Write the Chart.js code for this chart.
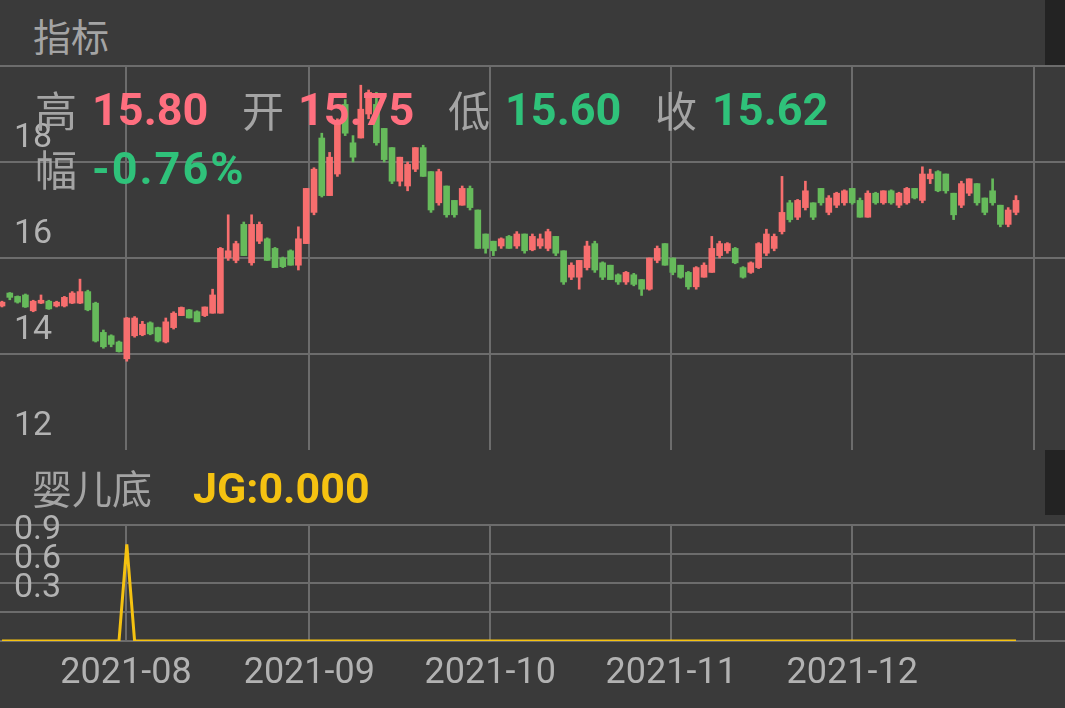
<!DOCTYPE html>
<html>
<head>
<meta charset="utf-8">
<script src="https://cdn.jsdelivr.net/npm/chart.js@4.4.0/dist/chart.umd.min.js"></script>
<style>
  html, body { margin: 0; padding: 0; background: #3a3a3a; width: 1065px; height: 708px; overflow: hidden; }
  .abs { position: absolute; white-space: nowrap; line-height: 1; }
  .cjk { font-family: "Noto Sans CJK SC", sans-serif; color: #a4a4a4; }
  .num { font-family: Roboto, sans-serif; font-weight: bold; }
  .up { color: #ff6f7f; }
  .down { color: #2fc27a; }
  .strip { position: absolute; left: 1045px; width: 20px; height: 65px; background: #232323; }
  #mainBox { position: absolute; left: 0; top: 64px; width: 1065px; height: 388px; }
  #subBox { position: absolute; left: 0; top: 515px; width: 1065px; height: 193px; }
</style>
</head>
<body>
<div class="strip" style="top:0"></div>
<div class="strip" style="top:450px"></div>
<div class="abs cjk" style="left:33px;top:16px;font-size:38px">指标</div>

<div id="mainBox"><canvas id="mainChart"></canvas></div>
<div id="subBox"><canvas id="subChart"></canvas></div>

<!-- 行情信息 -->
<div class="abs cjk" style="left:35px;top:88px;font-size:42px">高</div>
<div class="abs num up" style="left:92px;top:87px;font-size:45px">15.80</div>
<div class="abs cjk" style="left:242px;top:88px;font-size:42px">开</div>
<div class="abs num up" style="left:298px;top:87px;font-size:45px">15.75</div>
<div class="abs cjk" style="left:448px;top:88px;font-size:42px">低</div>
<div class="abs num down" style="left:505px;top:87px;font-size:45px">15.60</div>
<div class="abs cjk" style="left:655px;top:88px;font-size:42px">收</div>
<div class="abs num down" style="left:712px;top:87px;font-size:45px">15.62</div>
<div class="abs cjk" style="left:35px;top:147px;font-size:42px">幅</div>
<div class="abs num down" style="left:92px;top:146px;font-size:45px;letter-spacing:2px">-0.76%</div>

<div class="abs cjk" style="left:32px;top:467px;font-size:40px">婴儿底</div>
<div class="abs num" style="left:193px;top:467px;font-size:43px;color:#f5c211">JG:0.000</div>

<script>
// ===== DATOS =====
const opens = [
  15.0, 15.27, 15.2, 15.23, 14.9, 15.06, 15.1, 15.0, 15.0, 15.06,
  15.06, 15.3, 15.06, 14.45, 14.38, 14.25, 13.9, 14.38, 14.4, 14.65,
  14.55, 14.25, 14.55, 14.8, 14.92, 14.88, 14.8, 14.85, 14.85, 16.0,
  15.95, 16.7, 15.9, 16.35, 16.4, 16.2, 16.0, 16.15, 15.85, 16.3,
  16.95, 18.5, 17.3, 17.75, 19.2, 18.4, 18.5, 19.0, 19.2, 18.7,
  18.3, 17.6, 17.5, 17.85, 18.3, 17.8, 17.15, 17.5, 17.2, 17.1,
  17.45, 17.0, 16.5, 16.35, 16.25, 16.45, 16.25, 16.5, 16.17, 16.25,
  16.2, 16.45, 16.15, 15.6, 15.6, 15.8, 16.3, 15.9, 15.85, 15.65,
  15.5, 15.65, 15.55, 15.35, 15.95, 16.3, 16.0, 15.85, 15.7, 15.4,
  15.6, 15.7, 16.05, 16.15, 16.2, 15.8, 15.7, 15.8, 16.1, 16.2,
  16.55, 17.15, 16.85, 17.05, 17.15, 17.45, 16.95, 17.1, 17.15, 17.45,
  17.2, 16.85, 17.35, 17.15, 17.4, 17.1, 17.15, 17.45, 17.2, 17.65,
  17.8, 17.75, 17.35, 17.1, 17.35, 17.55, 17.25, 17.4, 17.1, 16.7,
  16.95
];
const highs = [
  15.1, 15.28, 15.21, 15.25, 15.12, 15.23, 15.12, 15.1, 15.2, 15.3,
  15.56, 15.33, 15.08, 14.5, 14.4, 14.27, 14.76, 14.78, 14.68, 14.67,
  14.56, 14.75, 14.88, 14.98, 14.93, 14.9, 14.98, 15.35, 16.22, 16.9,
  16.35, 16.75, 16.9, 16.75, 16.42, 16.22, 16.02, 16.17, 16.65, 17.45,
  17.88, 18.6, 18.2, 18.9, 19.3, 18.55, 19.6, 19.5, 19.45, 18.7,
  18.3, 18.1, 18.0, 18.3, 18.35, 17.8, 17.85, 17.5, 17.2, 17.5,
  17.5, 17.0, 16.5, 16.35, 16.42, 16.47, 16.55, 16.5, 16.5, 16.5,
  16.6, 16.45, 16.15, 15.9, 15.95, 16.35, 16.35, 15.92, 15.85, 15.67,
  15.72, 15.68, 15.55, 16.0, 16.25, 16.3, 16.0, 15.85, 15.72, 15.82,
  15.9, 16.45, 16.35, 16.32, 16.22, 15.82, 15.92, 16.32, 16.6, 16.5,
  17.7, 17.2, 17.22, 17.6, 17.15, 17.45, 17.3, 17.37, 17.42, 17.45,
  17.25, 17.4, 17.37, 17.4, 17.42, 17.37, 17.47, 17.45, 17.9, 17.85,
  17.82, 17.75, 17.35, 17.6, 17.65, 17.55, 17.25, 17.65, 17.1, 17.05,
  17.3
];
const lows = [
  14.98, 15.13, 15.06, 14.97, 14.88, 15.05, 14.93, 14.98, 14.98, 15.05,
  15.05, 14.9, 14.25, 14.12, 14.15, 14.04, 13.85, 14.35, 14.38, 14.4,
  14.25, 14.23, 14.52, 14.8, 14.75, 14.67, 14.78, 14.85, 14.85, 15.95,
  15.9, 16.05, 15.85, 16.3, 15.95, 15.8, 15.8, 15.85, 15.75, 16.3,
  16.9, 17.27, 17.3, 17.7, 18.55, 18.0, 18.5, 18.9, 18.35, 18.0,
  17.55, 17.5, 17.4, 17.8, 17.7, 16.95, 17.1, 16.85, 16.85, 17.1,
  17.0, 16.2, 16.1, 16.05, 16.2, 16.2, 16.2, 16.1, 16.15, 16.2,
  16.15, 16.05, 15.45, 15.55, 15.35, 15.75, 15.7, 15.55, 15.55, 15.45,
  15.45, 15.42, 15.22, 15.33, 15.9, 15.85, 15.65, 15.58, 15.35, 15.35,
  15.6, 15.7, 16.0, 16.1, 15.88, 15.58, 15.68, 15.78, 16.05, 16.15,
  16.5, 16.75, 16.8, 17.0, 16.8, 17.1, 16.9, 17.05, 17.1, 17.12,
  16.85, 16.85, 17.12, 17.12, 17.12, 17.05, 17.12, 17.23, 17.15, 17.55,
  17.38, 17.35, 16.8, 17.05, 17.3, 17.1, 16.9, 17.1, 16.65, 16.65,
  16.9
];
const closes = [
  15.08, 15.18, 15.08, 14.98, 15.1, 15.12, 14.94, 15.08, 15.18, 15.27,
  15.3, 14.92, 14.27, 14.15, 14.2, 14.05, 14.75, 14.75, 14.62, 14.42,
  14.27, 14.67, 14.85, 14.97, 14.75, 14.67, 14.98, 15.23, 16.2, 16.15,
  16.3, 16.05, 16.7, 16.7, 15.95, 15.8, 15.82, 15.85, 16.4, 17.45,
  17.85, 17.3, 18.1, 18.8, 18.6, 18.1, 19.1, 19.45, 18.4, 18.05,
  17.6, 18.1, 17.95, 18.3, 17.7, 17.0, 17.8, 16.9, 16.9, 17.45,
  17.05, 16.2, 16.2, 16.15, 16.4, 16.2, 16.5, 16.15, 16.45, 16.4,
  16.55, 16.1, 15.5, 15.85, 15.95, 16.25, 15.75, 15.6, 15.55, 15.5,
  15.7, 15.45, 15.35, 16.0, 16.2, 15.85, 15.7, 15.6, 15.4, 15.8,
  15.85, 16.2, 16.3, 16.3, 15.9, 15.6, 15.9, 16.3, 16.5, 16.45,
  16.95, 16.8, 17.2, 17.4, 16.85, 17.15, 17.25, 17.35, 17.4, 17.15,
  16.85, 17.35, 17.15, 17.4, 17.15, 17.35, 17.45, 17.25, 17.75, 17.75,
  17.4, 17.4, 16.9, 17.55, 17.65, 17.15, 16.95, 17.15, 16.7, 17.0,
  17.2
];
// indicador JG (婴儿底)
const jgValues = [
  0, 0, 0, 0, 0, 0, 0, 0, 0, 0,
  0, 0, 0, 0, 0, 0, 1, 0, 0, 0,
  0, 0, 0, 0, 0, 0, 0, 0, 0, 0,
  0, 0, 0, 0, 0, 0, 0, 0, 0, 0,
  0, 0, 0, 0, 0, 0, 0, 0, 0, 0,
  0, 0, 0, 0, 0, 0, 0, 0, 0, 0,
  0, 0, 0, 0, 0, 0, 0, 0, 0, 0,
  0, 0, 0, 0, 0, 0, 0, 0, 0, 0,
  0, 0, 0, 0, 0, 0, 0, 0, 0, 0,
  0, 0, 0, 0, 0, 0, 0, 0, 0, 0,
  0, 0, 0, 0, 0, 0, 0, 0, 0, 0,
  0, 0, 0, 0, 0, 0, 0, 0, 0, 0,
  0, 0, 0, 0, 0, 0, 0, 0, 0, 0,
  0
];
// month boundaries, in candle index units
const monthTicks = [15.9, 39.4, 62.6, 85.8, 109.0, 132.3];
const monthLabels = ['2021-08', '2021-09', '2021-10', '2021-11', '2021-12', ''];
const priceTicks = [12, 14, 16, 18, 20];
const priceLabels = ['12', '14', '16', '18', ''];
const jgTicks = [0, 0.3, 0.6, 0.9, 1.2];
const jgLabels = ['', '0.3', '0.6', '0.9', ''];

// ===== ESTILO =====
const RED = '#f76e6e';
const GREEN = '#66ba5b';
const GRID = '#6c6c6c';
const TICK = '#b2b2b2';
const X_MIN = -0.256;
const X_MAX = X_MIN + 1065 / 7.8;

const candleColors = closes.map((c, i) => (c >= opens[i] ? RED : GREEN));
const idx = closes.map((_, i) => i);

function noPadding(s) {
  s.paddingTop = 0;
  s.paddingBottom = 0;
  s.paddingLeft = 0;
  s.paddingRight = 0;
}

function xScale(showLabels) {
  return {
    type: 'linear',
    min: X_MIN,
    max: X_MAX,
    offset: false,
    afterBuildTicks: s => { s.ticks = monthTicks.map(v => ({ value: v })); },
    afterFit: s => { s.height = showLabels ? 67 : 0; noPadding(s); },
    grid: { color: GRID, lineWidth: 2, drawTicks: false, offset: false },
    border: { display: false },
    ticks: {
      display: showLabels,
      autoSkip: false,
      maxRotation: 0,
      padding: 11,
      color: TICK,
      font: { family: 'Roboto', size: 36 },
      callback: v => monthLabels[monthTicks.indexOf(v)]
    }
  };
}

function yScale(min, max, tickVals, tickLabels, hideBottomLine) {
  return {
    min, max,
    afterBuildTicks: s => { s.ticks = tickVals.map(v => ({ value: v })); },
    afterFit: s => { s.width = 0; noPadding(s); },
    grid: {
      color: ctx => (hideBottomLine && ctx.tick && ctx.tick.value === min ? 'rgba(0,0,0,0)' : GRID),
      lineWidth: 2,
      drawTicks: false
    },
    border: { display: false },
    ticks: {
      mirror: true,
      autoSkip: false,
      padding: 14,
      labelOffset: -24,
      color: TICK,
      font: { family: 'Roboto', size: 34 },
      callback: v => tickLabels[tickVals.indexOf(v)]
    }
  };
}

const commonPlugins = { legend: { display: false }, tooltip: { enabled: false } };

new Chart(document.getElementById('mainChart'), {
  type: 'bar',
  data: {
    datasets: [
      {
        data: idx.map(i => ({ x: i, y: [opens[i], closes[i]] })),
        backgroundColor: candleColors,
        barThickness: 6,
        minBarLength: 2,
        grouped: false,
        borderWidth: 0
      },
      {
        data: idx.map(i => ({ x: i, y: [lows[i], highs[i]] })),
        backgroundColor: candleColors,
        barThickness: 2,
        grouped: false,
        borderWidth: 0
      }
    ]
  },
  options: {
    responsive: true,
    maintainAspectRatio: false,
    animation: false,
    layout: { padding: { top: 2, bottom: 2, left: 0, right: 0 } },
    plugins: commonPlugins,
    scales: {
      x: xScale(false),
      y: yScale(12, 20, priceTicks, priceLabels, true)
    }
  }
});

new Chart(document.getElementById('subChart'), {
  type: 'line',
  data: {
    datasets: [
      {
        data: idx.map(i => ({ x: i, y: jgValues[i] })),
        borderColor: '#f5c211',
        borderWidth: 3,
        pointRadius: 0,
        tension: 0
      }
    ]
  },
  options: {
    responsive: true,
    maintainAspectRatio: false,
    animation: false,
    layout: { padding: { top: 10, bottom: 0, left: 0, right: 0 } },
    plugins: commonPlugins,
    scales: {
      x: xScale(true),
      y: yScale(0, 1.2, jgTicks, jgLabels, false)
    }
  }
});
</script>
</body>
</html>
